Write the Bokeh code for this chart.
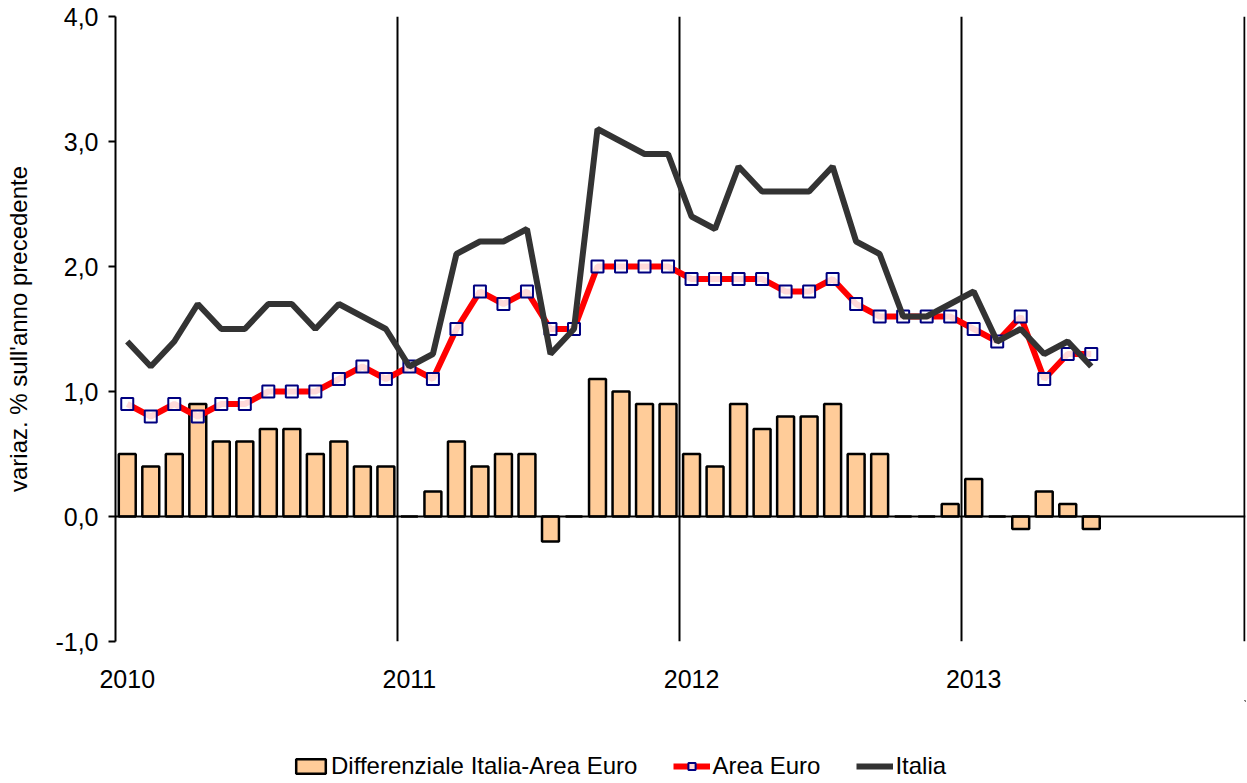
from bokeh.plotting import figure
from bokeh.layouts import column
from bokeh.models import (Range1d, FixedTicker, Span, Legend, LegendItem, ColumnDataSource)
from bokeh.embed import file_html
from bokeh.resources import INLINE

# ---- data (monthly, Jan 2010 - Jun 2013) ----
months = list(range(42))
area_euro = [0.9, 0.8, 0.9, 0.8, 0.9, 0.9, 1.0, 1.0, 1.0, 1.1, 1.2, 1.1,
             1.2, 1.1, 1.5, 1.8, 1.7, 1.8, 1.5, 1.5, 2.0, 2.0, 2.0, 2.0,
             1.9, 1.9, 1.9, 1.9, 1.8, 1.8, 1.9, 1.7, 1.6, 1.6, 1.6, 1.6,
             1.5, 1.4, 1.6, 1.1, 1.3, 1.3]
italia = [1.4, 1.2, 1.4, 1.7, 1.5, 1.5, 1.7, 1.7, 1.5, 1.7, 1.6, 1.5,
          1.2, 1.3, 2.1, 2.2, 2.2, 2.3, 1.3, 1.5, 3.1, 3.0, 2.9, 2.9,
          2.4, 2.3, 2.8, 2.6, 2.6, 2.6, 2.8, 2.2, 2.1, 1.6, 1.6, 1.7,
          1.8, 1.4, 1.5, 1.3, 1.4, 1.2]
differenziale = [0.5, 0.4, 0.5, 0.9, 0.6, 0.6, 0.7, 0.7, 0.5, 0.6, 0.4, 0.4,
                 0.0, 0.2, 0.6, 0.4, 0.5, 0.5, -0.2, 0.0, 1.1, 1.0, 0.9, 0.9,
                 0.5, 0.4, 0.9, 0.7, 0.8, 0.8, 0.9, 0.5, 0.5, 0.0, 0.0, 0.1,
                 0.3, 0.0, -0.1, 0.2, 0.1, -0.1]
year_ticks = [0, 12, 24, 36]
year_labels = ["2010", "2011", "2012", "2013"]
year_bounds = [-0.5, 11.5, 23.5, 35.5, 47.5]
y_ticks = [-1, 0, 1, 2, 3, 4]
y_labels = ["-1,0", "0,0", "1,0", "2,0", "3,0", "4,0"]
series_names = ["Differenziale Italia-Area Euro", "Area Euro", "Italia"]

src = ColumnDataSource(dict(x=months, euro=area_euro, ita=italia, diff=differenziale))

FONT = "Liberation Sans"
BAR_STYLE = dict(fill_color="#FFCC99", line_color="black", line_width=2.5)
EURO_LINE = dict(line_color="#FF0000", line_width=6)
EURO_MARK = dict(marker="square", size=12, line_color="#000080", line_width=2,
                 fill_color="white", fill_alpha=0.85)
ITA_LINE = dict(line_color="#333333", line_width=6)

p = figure(width=1247, height=700, output_backend="svg", toolbar_location=None,
           x_range=Range1d(-0.5, 47.56), y_range=Range1d(-1, 4),
           min_border_left=115, min_border_right=2, min_border_top=16, min_border_bottom=59)
p.outline_line_color = None
p.background_fill_color = "white"

# grids
p.ygrid.visible = False
p.xgrid.ticker = FixedTicker(ticks=year_bounds)
p.xgrid.grid_line_color = "black"
p.xgrid.grid_line_width = 2

# zero line
p.add_layout(Span(location=0, dimension="width", line_color="black", line_width=2))

p.vbar(x="x", top="diff", bottom=0, width=0.72, source=src, **BAR_STYLE)
p.line(x="x", y="euro", source=src, **EURO_LINE)
p.scatter(x="x", y="euro", source=src, **EURO_MARK)
p.line(x="x", y="ita", source=src, **ITA_LINE)

# y axis
ya = p.yaxis[0]
ya.ticker = FixedTicker(ticks=y_ticks)
ya.major_label_overrides = {t: l for t, l in zip(y_ticks, y_labels)}
ya.axis_line_color = "black"
ya.axis_line_width = 2
ya.major_tick_line_color = "black"
ya.major_tick_line_width = 2
ya.major_tick_out = 7
ya.major_tick_in = 0
ya.minor_tick_line_color = None
ya.major_label_text_font = FONT
ya.major_label_text_font_size = "25px"
ya.major_label_text_color = "black"
ya.major_label_standoff = 10
ya.axis_label = "variaz. % sull'anno precedente"
ya.axis_label_text_font = FONT
ya.axis_label_text_font_size = "24px"
ya.axis_label_text_font_style = "normal"
ya.axis_label_text_color = "black"
ya.axis_label_standoff = 20

# x axis
xa = p.xaxis[0]
xa.ticker = FixedTicker(ticks=year_ticks)
xa.major_label_overrides = {t: l for t, l in zip(year_ticks, year_labels)}
xa.axis_line_color = None
xa.major_tick_line_color = None
xa.minor_tick_line_color = None
xa.major_label_text_font = FONT
xa.major_label_text_font_size = "25px"
xa.major_label_text_color = "black"
xa.major_label_standoff = 22

# ---- legend strip (proxy glyphs placed outside its visible range) ----
lf = figure(width=1247, height=83, output_backend="svg", toolbar_location=None,
            x_range=Range1d(0, 1), y_range=Range1d(0, 1),
            min_border_left=0, min_border_right=0, min_border_top=0, min_border_bottom=0)
lf.axis.visible = False
lf.grid.visible = False
lf.outline_line_color = None
proxy = ColumnDataSource(dict(x=[5, 6], y=[5, 6], top=[5, 6]))
lb = lf.vbar(x="x", top="top", bottom=4, width=0.1, source=proxy, **BAR_STYLE)
ll = lf.line(x="x", y="y", source=proxy, **EURO_LINE)
lm = lf.scatter(x="x", y="y", source=proxy, **EURO_MARK)
li = lf.line(x="x", y="y", source=proxy, **ITA_LINE)

legend = Legend(items=[
    LegendItem(label=series_names[0], renderers=[lb], index=0),
    LegendItem(label=series_names[1], renderers=[ll, lm], index=0),
    LegendItem(label=series_names[2], renderers=[li], index=0),
], orientation="horizontal", location=(177, 3))
legend.border_line_color = None
legend.background_fill_alpha = 0
legend.padding = 0
legend.margin = 0
legend.spacing = 36
legend.label_standoff = 2
legend.glyph_width = 37
legend.glyph_height = 18
legend.label_text_font = FONT
legend.label_text_font_size = "24px"
legend.label_text_color = "black"
lf.add_layout(legend, "center")

open("out.html", "w").write(file_html(column(p, lf, spacing=0), INLINE))
